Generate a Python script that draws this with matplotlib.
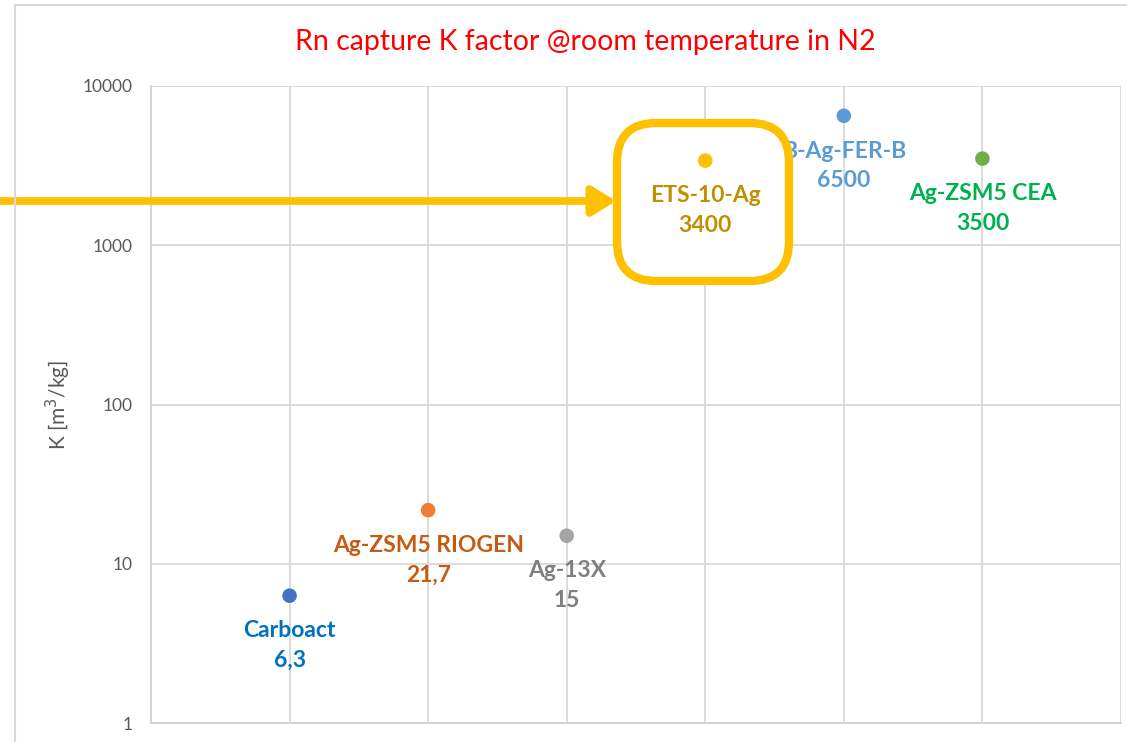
import matplotlib
matplotlib.use("Agg")
import matplotlib.pyplot as plt
from matplotlib.patches import FancyBboxPatch, FancyArrowPatch, Rectangle

plt.rcParams['font.family'] = ['Lato', 'DejaVu Sans']

materials = ["Carboact", "Ag-ZSM5 RIOGEN", "Ag-13X", "ETS-10-Ag", "B-Ag-FER-B", "Ag-ZSM5 CEA"]
k_values = [6.3, 21.7, 15, 3400, 6500, 3500]
value_labels = ["6,3", "21,7", "15", "3400", "6500", "3500"]
x_pos = [1, 2, 3, 4, 5, 6]
marker_colors = ["#4472C4", "#ED7D31", "#A5A5A5", "#FFC000", "#5B9BD5", "#70AD47"]
label_colors = ["#0070C0", "#C55A11", "#7F7F7F", "#BF9000", "#5B9BD5", "#00B050"]
y_ticks = [1, 10, 100, 1000, 10000]
highlight = "ETS-10-Ag"

W, H = 1127, 742
fig = plt.figure(figsize=(W / 100, H / 100), dpi=100)


def px(x, y):
    # pixel position (from top-left) -> figure fraction
    return x / W, 1 - y / H


# outer chart frame (runs off the right and bottom edges)
fig.patches.append(Rectangle(px(15, 760), 1200 / W, 755 / H, transform=fig.transFigure,
                             fill=False, edgecolor="#D9D9D9", lw=1.5, clip_on=False))

ax = fig.add_axes([151 / W, 19 / H, 970 / W, 637 / H])
ax.set_yscale("log")
ax.set_ylim(1, 10000)
ax.set_xlim(0, 7)
ax.set_yticks(y_ticks)
ax.set_yticklabels([str(t) for t in y_ticks])
ax.yaxis.set_minor_locator(matplotlib.ticker.NullLocator())
ax.set_xticks(range(1, 8))
ax.set_xticklabels([])
ax.tick_params(axis="both", length=0, colors="#595959", labelsize=12.5, pad=13.5)
ax.grid(True, color="#D9D9D9", lw=1.3)
ax.set_axisbelow(True)
for side in ["top", "right"]:
    ax.spines[side].set_visible(False)
for side in ["left", "bottom"]:
    ax.spines[side].set_color("#D0D0D0")
    ax.spines[side].set_linewidth(1.3)

ax.set_ylabel("K [m$^3$/kg]", color="#595959", fontsize=15, labelpad=7)

ax.scatter(x_pos, k_values, s=110, c=marker_colors, zorder=6, linewidths=0)

for x, k, name, val, col in zip(x_pos, k_values, materials, value_labels, label_colors):
    ax.annotate(f"{name}\n{val}", (x, k), xytext=(0, -50), textcoords="offset pixels",
                ha="center", va="center", color=col, fontsize=16.5, fontweight="bold",
                linespacing=1.5, zorder=7 if name == highlight else 4)

fig.text(*px(585, 42), "Rn capture K factor @room temperature in N2", color="#FF0000",
         fontsize=20.5, ha="center", va="center")

# highlight frame around ETS-10-Ag: white fill hides the grid, yellow rim on top
x0, y1 = px(617, 281)
x1, y0 = px(789, 123)
frame_style = dict(boxstyle="round,pad=0,rounding_size=0.035", mutation_aspect=W / H,
                   transform=fig.transFigure)
ax.add_patch(FancyBboxPatch((x0, y1), x1 - x0, y0 - y1, facecolor="white",
                            edgecolor="none", zorder=5, clip_on=False, **frame_style))
fig.patches.append(FancyBboxPatch((x0, y1), x1 - x0, y0 - y1, facecolor="none",
                                  edgecolor="#FFC000", lw=6, zorder=10, **frame_style))

fig.add_artist(FancyArrowPatch(
    px(-5, 201), px(616, 201), transform=fig.transFigure,
    arrowstyle="-|>,head_length=1.0,head_width=0.62", mutation_scale=14,
    color="#FFC000", lw=5.5, shrinkA=0, shrinkB=0))

fig.savefig("out.png", dpi=100)
